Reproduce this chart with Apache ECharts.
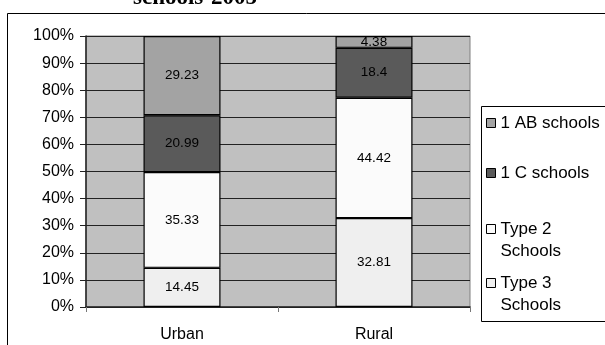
<!DOCTYPE html>
<html>
<head>
<meta charset="utf-8">
<script src="https://cdn.jsdelivr.net/npm/echarts@6/dist/echarts.min.js"></script>
<style>
  html, body { margin: 0; padding: 0; background: #fff; }
  #chart { width: 605px; height: 345px; }
</style>
</head>
<body>
<div id="chart"></div>
<script>
// School type shares (%) by area, 2005
const categories = ['Urban', 'Rural'];
const type3Schools = [14.45, 32.81];
const type2Schools = [35.33, 44.42];
const cSchools = [20.99, 18.4];
const abSchools = [29.23, 4.38];

const FONT = '"Liberation Sans", Arial, Helvetica, sans-serif';

function barSeries(name, values, color) {
  return {
    name: name,
    type: 'bar',
    stack: 'share',
    barWidth: 77,
    data: values,
    itemStyle: { color: color, borderColor: '#000', borderWidth: 1.2 },
    label: {
      show: true,
      position: 'inside',
      color: '#000',
      fontFamily: FONT,
      fontSize: 13.5,
      formatter: p => String(p.value)
    },
    emphasis: { disabled: true }
  };
}

// Two-line entries keep the marker beside the first line: a blank leading
// line balances the wrapped second line around the marker's centre.
function legendEntry(name, top, twoLine) {
  return {
    data: [name],
    orient: 'vertical',
    left: 486,
    top: top,
    padding: 0,
    itemGap: 0,
    itemWidth: 9,
    itemHeight: 9,
    icon: 'rect',
    selectedMode: false,
    itemStyle: { borderColor: '#000', borderWidth: 1 },
    formatter: n => twoLine ? ' \n' + n.replace(' Schools', '\nSchools') : n,
    textStyle: {
      fontFamily: FONT,
      fontSize: 17,
      color: '#000',
      lineHeight: 22
    }
  };
}

const chart = echarts.init(document.getElementById('chart'), null, { renderer: 'canvas' });

chart.setOption({
  animation: false,
  backgroundColor: '#fff',
  grid: {
    left: 86, right: 135, top: 36, bottom: 38,
    show: true,
    backgroundColor: '#c0c0c0',
    borderColor: '#808080',
    borderWidth: 1
  },
  xAxis: {
    type: 'category',
    data: categories,
    axisLine: { show: true, lineStyle: { color: '#222', width: 1.5 } },
    axisTick: { show: true, length: 5, lineStyle: { color: '#777' } },
    axisLabel: { color: '#000', fontFamily: FONT, fontSize: 16, margin: 20 },
    splitLine: { show: false }
  },
  yAxis: {
    type: 'value',
    min: 0,
    max: 100,
    interval: 10,
    axisLine: { show: true, lineStyle: { color: '#222', width: 1.5 } },
    axisTick: { show: true, length: 6, lineStyle: { color: '#222' } },
    axisLabel: { color: '#000', fontFamily: FONT, fontSize: 16, margin: 12, formatter: '{value}%' },
    splitLine: { show: true, lineStyle: { color: '#222', width: 1 } }
  },
  legend: [
    legendEntry('1 AB schools', 112, false),
    legendEntry('1 C schools', 162, false),
    legendEntry('Type 2 Schools', 196, true),
    legendEntry('Type 3 Schools', 250, true)
  ],
  graphic: [
    {
      type: 'rect',
      shape: { x: 7.5, y: 13.5, width: 700, height: 400 },
      style: { fill: null, stroke: '#000', lineWidth: 1 },
      silent: true
    },
    {
      type: 'rect',
      shape: { x: 481.5, y: 106.5, width: 200, height: 215 },
      style: { fill: '#fff', stroke: '#000', lineWidth: 1 },
      silent: true
    },
    {
      type: 'text',
      x: 195,
      y: -2,
      style: {
        text: 'schools-2005',
        fontFamily: '"Liberation Serif", "Times New Roman", serif',
        fontWeight: 'bold',
        fontSize: 23,
        fill: '#000',
        align: 'center',
        verticalAlign: 'middle'
      },
      silent: true
    }
  ],
  series: [
    barSeries('Type 3 Schools', type3Schools, '#efefef'),
    barSeries('Type 2 Schools', type2Schools, '#fbfbfb'),
    barSeries('1 C schools', cSchools, '#5a5a5a'),
    barSeries('1 AB schools', abSchools, '#a3a3a3')
  ]
});
</script>
</body>
</html>
